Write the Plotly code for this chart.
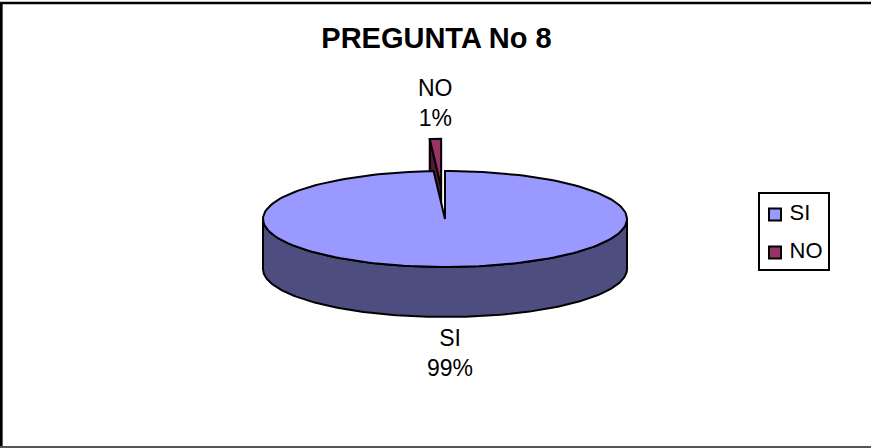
import numpy as np
import plotly.graph_objects as go

# Survey answers
categories = ["SI", "NO"]
values = [99, 1]
top_colors = ["#9999FF", "#993366"]
side_colors = ["#4D4D80", "#4D1A33"]
title_text = "PREGUNTA No 8"

# Tilted pie geometry, in page pixels
CX, CY = 445, 219
RX, RY = 182, 48
DEPTH = 50
EXPLODE = {"NO": 0.67}
EDGE = dict(color="black", width=2)
FONT = "Liberation Sans, Arial, sans-serif"


def rim(a0, a1, dx=0.0, dy=0.0, drop=0.0, n=180):
    """Ellipse points between two clockwise-from-north angles (radians)."""
    t = np.linspace(a0, a1, n)
    return CX + dx + RX * np.sin(t), CY + dy + drop - RY * np.cos(t)


def polygon(xs, ys, fill):
    return go.Scatter(
        x=list(xs), y=list(ys), mode="lines", fill="toself", fillcolor=fill,
        line=EDGE, hoverinfo="skip", showlegend=False,
    )


total = sum(values)
fig = go.Figure()
start = 0.0
spans = []
for name, val in zip(categories, values):
    end = start + 2 * np.pi * val / total
    spans.append((name, start, end))
    start = end

traces_back, traces_front = [], []
for (name, a0, a1), top, side in zip(spans, top_colors, side_colors):
    mid = (a0 + a1) / 2
    k = EXPLODE.get(name, 0.0)
    dx, dy = k * RX * np.sin(mid), -k * RY * np.cos(mid)
    group = []

    if name == "NO":
        # Back slice pulled out: its left cut face shows through the notch
        rx0, ry0 = rim(a0, a0, dx, dy, n=1)
        fx = [CX + dx, rx0[0], rx0[0], CX + dx, CX + dx]
        fy = [CY + dy, ry0[0], ry0[0] + DEPTH, CY + dy + DEPTH, CY + dy]
        group.append(polygon(fx, fy, side))
    else:
        # Front wall: only the part of the rim below the centre line is seen
        lo, hi = max(a0, np.pi / 2), min(a1, 3 * np.pi / 2)
        ux, uy = rim(lo, hi, dx, dy)
        bx, by = rim(hi, lo, dx, dy, drop=DEPTH)
        group.append(polygon(np.r_[ux, bx, ux[0]], np.r_[uy, by, uy[0]], side))

    tx, ty = rim(a0, a1, dx, dy)
    group.append(polygon(np.r_[CX + dx, tx, CX + dx], np.r_[CY + dy, ty, CY + dy], top))
    (traces_back if name == "NO" else traces_front).extend(group)

fig.add_traces(traces_back + traces_front)

# Legend keys and names inside a framed box
LEGEND_X, LEGEND_Y = 775, [214.5, 252.5]
fig.add_trace(go.Scatter(
    x=[LEGEND_X] * len(categories), y=LEGEND_Y, mode="markers+text",
    text=[f" {c}" for c in categories], textposition="middle right",
    textfont=dict(family=FONT, size=22, color="black"),
    marker=dict(symbol="square", size=12, color=top_colors, line=dict(color="black", width=2)),
    hoverinfo="skip", showlegend=False,
))

# Slice labels
label_pos = {"SI": (449.5, 353), "NO": (435.5, 103)}
for name, val in zip(categories, values):
    x, y = label_pos[name]
    fig.add_annotation(
        x=x, y=y, xref="x", yref="y", showarrow=False, align="center",
        text=f"{name}<br>{round(100 * val / total)}%",
        font=dict(family=FONT, size=23, color="black"),
    )

frame = [
    dict(x0=1.3, y0=2, x1=1.3, y1=448, color="black", width=2.7),
    dict(x0=0, y0=3, x1=871, y1=3, color="black", width=2.4),
    dict(x0=0, y0=447, x1=871, y1=447, color="#555555", width=2),
]
shapes = [
    dict(type="line", xref="x", yref="y", x0=f["x0"], y0=f["y0"], x1=f["x1"], y1=f["y1"],
         line=dict(color=f["color"], width=f["width"]), layer="above")
    for f in frame
]
shapes.append(dict(type="rect", xref="x", yref="y", x0=759, y0=193, x1=829, y1=270,
                   line=dict(color="black", width=2), fillcolor="white", layer="below"))

fig.update_layout(
    width=871, height=448, autosize=False,
    margin=dict(l=0, r=0, t=0, b=0),
    paper_bgcolor="white", plot_bgcolor="white",
    showlegend=False,
    title=dict(
        text=f"<b>{title_text}</b>", x=436.5 / 871, y=1 - 38 / 448,
        xanchor="center", yanchor="middle",
        font=dict(family=FONT, size=29, color="black"),
    ),
    xaxis=dict(range=[0, 871], visible=False, fixedrange=True),
    yaxis=dict(range=[448, 0], visible=False, fixedrange=True),
    shapes=shapes,
)

fig.write_html("out.html")
